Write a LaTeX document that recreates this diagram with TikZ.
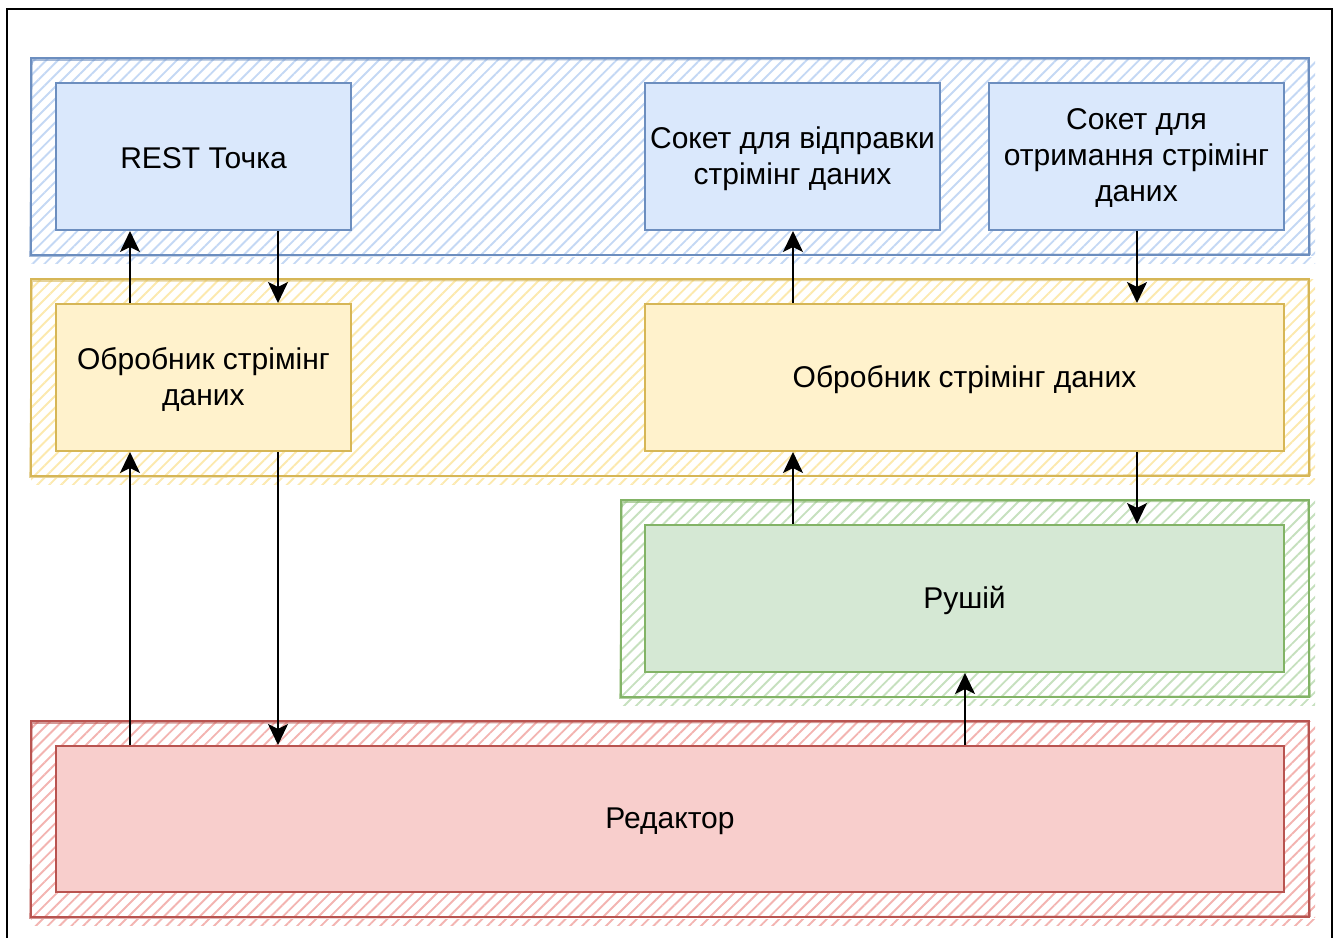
\documentclass[tikz,border=0pt]{standalone}
\usepackage{fontspec}
\setmainfont{Liberation Sans}
\usetikzlibrary{arrows.meta,patterns.meta}

\definecolor{blueFill}{HTML}{DAE8FC}
\definecolor{blueLine}{HTML}{6C8EBF}
\definecolor{blueHatch}{HTML}{C4D8F4}
\definecolor{yelFill}{HTML}{FFF2CC}
\definecolor{yelLine}{HTML}{D6B656}
\definecolor{yelHatch}{HTML}{FCE9AE}
\definecolor{grnFill}{HTML}{D5E8D4}
\definecolor{grnLine}{HTML}{82B366}
\definecolor{grnHatch}{HTML}{C6E0BE}
\definecolor{redFill}{HTML}{F8CECC}
\definecolor{redLine}{HTML}{B85450}
\definecolor{redHatch}{HTML}{F3B4B1}

\tikzset{
  box/.style={draw, line width=1pt, inner sep=0pt, align=center,
    font=\fontsize{15}{18}\selectfont, text=black},
  bluebox/.style={box, fill=blueFill, draw=blueLine},
  yelbox/.style={box, fill=yelFill, draw=yelLine},
  grnbox/.style={box, fill=grnFill, draw=grnLine},
  redbox/.style={box, fill=redFill, draw=redLine},
  lbl/.style={align=center, font=\fontsize{15}{18}\selectfont, text=black,
    inner sep=0pt, yshift=-1pt},
  arr/.style={line width=1pt, draw=black,
    -{Stealth[length=10.5pt, width=10pt, inset=2.5pt]}},
  hatch/.style={pattern={Lines[angle=45, distance=4.2pt, line width=0.95pt]},
    pattern color=#1},
  frameline/.style={line width=1.4pt, draw=black}
}

% group: hatched, hand-drawn frame
\newcommand{\grouprect}[6]{%
  % #1,#2 top-left; #3,#4 bottom-right; #5 line colour; #6 hatch colour
  \fill[hatch=#6] (#1,#2) rectangle (#3+6,#4+8);
  \fill[white] (#1,#4+2) rectangle (#3+8,#4+1);
  \draw[#5, line width=1pt] (#1,#2) rectangle (#3,#4);
  \draw[#5, line width=0.8pt, opacity=0.6] (#1+1,#2+2) -- (#3-1,#2+1)
     -- (#3+1,#4-1) -- (#1-1,#4+1) -- cycle;
}

\begin{document}
\begin{tikzpicture}[x=0.5pt, y=-0.5pt]
\useasboundingbox (0,0) rectangle (1340,938);

% outer frame
\draw[frameline] (7,945) -- (7,9) -- (1332,9) -- (1332,945);

% layer groups
\grouprect{31}{58}{1309}{255}{blueLine}{blueHatch}
\grouprect{31}{279}{1309}{476}{yelLine}{yelHatch}
\grouprect{621}{500}{1309}{697}{grnLine}{grnHatch}
\grouprect{31}{721}{1309}{917}{redLine}{redHatch}

% blue layer: endpoints
\node[bluebox, minimum width=147.5pt, minimum height=73.5pt] (rest) at (203.5,156.5) {};
\node[bluebox, minimum width=147.5pt, minimum height=73.5pt] (send) at (792.5,156.5) {};
\node[bluebox, minimum width=147.5pt, minimum height=73.5pt] (recv) at (1136.5,156.5) {};
\node[lbl] (restT) at (rest) {REST Точка};
\node[lbl] (sendT) at (send) {Сокет для відправки\\стрімінг даних};
\node[lbl] (recvT) at (recv) {Сокет для\\отримання стрімінг\\даних};

% yellow layer: stream processors
\node[yelbox, minimum width=147.5pt, minimum height=73.5pt] (procL) at (203.5,377.5) {};
\node[yelbox, minimum width=319.5pt, minimum height=73.5pt] (procR) at (964.5,377.5) {};
\node[lbl] (procLT) at (procL) {Обробник стрімінг\\даних};
\node[lbl] (procRT) at (procR) {Обробник стрімінг даних};

% green layer: engine
\node[grnbox, minimum width=319.5pt, minimum height=73.5pt] (engine) at (964.5,598.5) {};
\node[lbl] (engineT) at (engine) {Рушій};

% red layer: editor
\node[redbox, minimum width=614pt, minimum height=73pt] (editor) at (670,819) {};
\node[lbl] (editorT) at (editor) {Редактор};

% connector columns
\coordinate (ca) at (130,0);
\coordinate (cb) at (278,0);
\coordinate (cc) at (793,0);
\coordinate (cd) at (1137,0);
\coordinate (ce) at (965,0);

% connectors
\draw[arr] (ca |- procL.north) -- (ca |- rest.south);
\draw[arr] (cb |- rest.south) -- (cb |- procL.north);
\draw[arr] (cc |- procR.north) -- (cc |- send.south);
\draw[arr] (cd |- recv.south) -- (cd |- procR.north);
\draw[arr] (ca |- editor.north) -- (ca |- procL.south);
\draw[arr] (cb |- procL.south) -- (cb |- editor.north);
\draw[arr] (cc |- engine.north) -- (cc |- procR.south);
\draw[arr] (cd |- procR.south) -- (cd |- engine.north);
\draw[arr] (ce |- editor.north) -- (ce |- engine.south);
\end{tikzpicture}
\end{document}
